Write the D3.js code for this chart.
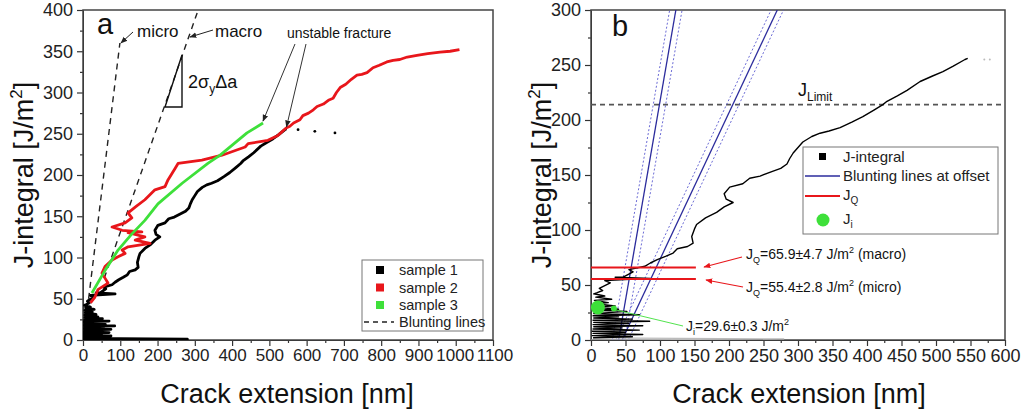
<!DOCTYPE html>
<html>
<head>
<meta charset="utf-8">
<script src="https://cdn.jsdelivr.net/npm/d3@7"></script>
<style>
  body { margin: 0; background: #fff; }
  svg { display: block; font-family: "Liberation Sans", Arial, sans-serif; }
</style>
</head>
<body>
<div id="chart"></div>
<script>
// --------------------------------------
// Data
// --------------------------------------

// panel a : crack extension [nm], J-integral [J/m2]
const sample1 = [
  [0,0],[280,1],[3,2],[60,3],[2,4],[75,5],[3,6],[50,7],[2,8],[70,9],[3,10],[45,11],[4,12],
  [75,13],[3,14],[55,15],[4,16],[85,17],[3,18],[60,19],[4,20],[40,21],[3,22],[70,23],[4,24],
  [52,26],[5,27],[40,28],[5,30],[35,31],[6,33],[25,34],[5,36],[30,37],[7,39],[20,40],[4,42],
  [9,43],[17,45],[12,47],[28,52],[20,54],[86,56],[35,57],[46,57],[61,62],[55,64],[78,67],
  [86,70],[96,73],[108,76],[119,79],[125,83],[140,85],[148,88],[146,94],[150,101],[153,105],
  [166,111],[182,116],[193,121],[206,125],[196,128],[193,133],[201,139],[220,142],[230,147],
  [245,149],[262,153],[275,156],[284,160],[288,165],[293,170],[300,175],[307,180],[320,185],
  [332,188],[345,190],[361,193],[378,198],[394,203],[410,209],[423,214],[429,217],[444,222],
  [458,227],[477,235],[495,240],[510,244],[525,249],[542,255],[546,256]
];
const sample1Tail = [[577,255],[622,253],[676,251]];

const sample2 = [
  [20,45],[32,52],[40,61],[67,69],[59,75],[51,81],[59,89],[78,97],[94,101],[113,105],[105,109],
  [121,113],[180,117],[140,121],[166,125],[121,130],[158,131],[105,133],[78,137],[113,142],
  [131,148],[121,154],[140,161],[166,170],[193,182],[220,186],[228,194],[247,208],[255,214],
  [319,218],[373,224],[435,234],[443,238],[496,242],[523,248],[545,257],[555,259],[565,263],
  [582,267],[590,272],[605,275],[618,279],[628,283],[645,286],[660,291],[671,293],[680,300],
  [690,306],[705,310],[720,316],[735,321],[748,322],[762,324],[778,330],[795,333],[815,337],
  [832,339],[850,340],[870,343],[896,345],[925,347],[958,349],[985,350],[1010,352]
];

const sample3 = [
  [24,57],[60,85],[94,109],[130,128],[166,145],[201,165],[266,190],[335,214],[368,224],
  [440,251],[483,263]
];

const bluntMicro = [[15,50],[99,360]];
const bluntMacro = [[57,75],[309,400]];

const legendA = [
  { label: "sample 1", color: "#000000" },
  { label: "sample 2", color: "#e8161b" },
  { label: "sample 3", color: "#3ee03a" }
];

// panel b
const offsetLines = [
  { mid: [[40,0],[123,300]], lo: [[31,0],[114,300]], hi: [[49,0],[132,300]] },
  { mid: [[45,0],[270,300]], lo: [[36,0],[261,300]], hi: [[54,0],[279,300]] }
];
const jQValues = [65.9, 55.4];
const jQEnd = 152;
const jLimit = 214;
const jI = [10, 29.6];
const sampleBTail = [[570,255],[578,255]];

const ticksA_x = d3.range(0, 1101, 100);
const ticksA_y = d3.range(0, 401, 50);
const ticksB_x = d3.range(0, 601, 50);
const ticksB_y = d3.range(0, 301, 50);

// --------------------------------------
//  Canvas
// --------------------------------------

const width = 1023, height = 414;
const red = "#e8161b", green = "#3ee03a", blue = "#2b2b9c";

const svg = d3.select("#chart")
  .append("svg")
    .attr("width", width)
    .attr("height", height)
    .attr("viewBox", [0, 0, width, height]);

// --------------------------------------
// Scales
// --------------------------------------

const xA = d3.scaleLinear([0, 1100], [83, 493]);
const yA = d3.scaleLinear([0, 400], [340, 10]);
const xB = d3.scaleLinear([0, 600], [591, 1005]);
const yB = d3.scaleLinear([0, 300], [340, 10]);

// --------------------------------------
//  Axes
// --------------------------------------

function drawAxes(x, y, xt, yt, fs) {
  const x0 = x.range()[0], y0 = y.range()[0];
  const xStep = xt[1] - xt[0], yStep = yt[1] - yt[0];
  const xMinor = xt.slice(0, -1).map(d => d + xStep / 2);
  const yMinor = yt.slice(0, -1).map(d => d + yStep / 2);

  svg.append("g")
    .attr("transform", `translate(0,${y0})`)
    .call(d3.axisBottom(x).tickValues(xMinor).tickSize(3).tickFormat(""))
    .call(g => g.select(".domain").remove());
  svg.append("g")
    .attr("transform", `translate(${x0},0)`)
    .call(d3.axisLeft(y).tickValues(yMinor).tickSize(3).tickFormat(""))
    .call(g => g.select(".domain").remove());

  svg.append("g")
    .attr("class", "xaxis")
    .attr("transform", `translate(0,${y0})`)
    .call(d3.axisBottom(x).tickValues(xt).tickFormat(d3.format("d"))
      .tickSize(6).tickSizeOuter(0).tickPadding(3))
    .attr("font-size", fs)
    .attr("font-family", null)
    .attr("color", "#222");
  svg.append("g")
    .attr("transform", `translate(${x0},0)`)
    .call(d3.axisLeft(y).tickValues(yt).tickSize(6).tickSizeOuter(0).tickPadding(4))
    .attr("font-size", 18)
    .attr("font-family", null)
    .attr("color", "#222");

  svg.selectAll(".tick line").attr("stroke", "#333").attr("stroke-width", 1.2);

  svg.append("rect")
    .attr("x", x0).attr("y", y.range()[1])
    .attr("width", x.range()[1] - x0)
    .attr("height", y0 - y.range()[1])
    .attr("fill", "none")
    .attr("stroke", "#444")
    .attr("stroke-width", 1.5);
}

function axisTitles(cx, ty, cy) {
  svg.append("text")
    .attr("x", cx).attr("y", 403)
    .attr("text-anchor", "middle")
    .attr("font-size", 27)
    .attr("fill", "#111")
    .text("Crack extension [nm]");

  const t = svg.append("text")
    .attr("transform", `translate(${ty},${cy}) rotate(-90)`)
    .attr("text-anchor", "middle")
    .attr("font-size", 27)
    .attr("fill", "#111");
  t.append("tspan").text("J-integral [J/m");
  t.append("tspan").attr("font-size", 17).attr("dy", -11).text("2");
  t.append("tspan").attr("dy", 11).text("]");
}

drawAxes(xA, yA, ticksA_x, ticksA_y, 17);
drawAxes(xB, yB, ticksB_x, ticksB_y, 18);
axisTitles(287, 33, 175);
axisTitles(799, 551, 175);

// the last two labels of panel a sit edge to edge, as in the original
svg.select(".xaxis").selectAll(".tick text")
  .attr("dx", d => d === 1000 ? -1 : d === 1100 ? 1.5 : 0);

// arrow heads
const defs = svg.append("defs");
[["arrBlack", "#222"], ["arrRed", red]].forEach(([id, c]) => {
  defs.append("marker")
    .attr("id", id)
    .attr("viewBox", "0 0 10 10")
    .attr("refX", 9).attr("refY", 5)
    .attr("markerWidth", 7).attr("markerHeight", 7)
    .attr("markerUnits", "userSpaceOnUse")
    .attr("orient", "auto")
    .append("path")
      .attr("d", "M0,1 L10,5 L0,9 Z")
      .attr("fill", c);
});

defs.append("clipPath").attr("id", "clipB")
  .append("rect").attr("x", 591).attr("y", 10).attr("width", 414).attr("height", 330);
defs.append("clipPath").attr("id", "clipA")
  .append("rect").attr("x", 83).attr("y", 10).attr("width", 410).attr("height", 330);

// --------------------------------------
// Panel a
// --------------------------------------

const lineA = d3.line().x(d => xA(d[0])).y(d => yA(d[1]));
const gA = svg.append("g").attr("clip-path", "url(#clipA)");

[bluntMicro, bluntMacro].forEach(l => {
  gA.append("path")
    .attr("d", lineA(l))
    .attr("fill", "none")
    .attr("stroke", "#222")
    .attr("stroke-width", 1.4)
    .attr("stroke-dasharray", "6,5");
});

[[sample1, "#000"], [sample2, red], [sample3, green]].forEach(([s, c]) => {
  gA.append("path")
    .attr("d", lineA(s))
    .attr("fill", "none")
    .attr("stroke", c)
    .attr("stroke-width", 2.8)
    .attr("stroke-linejoin", "round");
});

gA.selectAll(".tailA")
  .data(sample1Tail)
  .join("circle")
    .attr("cx", d => xA(d[0]))
    .attr("cy", d => yA(d[1]))
    .attr("r", 1.4)
    .attr("fill", "#000");

svg.append("text").attr("x", 97).attr("y", 34)
  .attr("font-size", 29).attr("fill", "#111").text("a");

svg.append("text").attr("x", 137).attr("y", 37)
  .attr("font-size", 17).attr("fill", "#111").text("micro");
svg.append("text").attr("x", 215).attr("y", 37)
  .attr("font-size", 17).attr("fill", "#111").text("macro");
svg.append("line")
  .attr("x1", 133).attr("y1", 32).attr("x2", xA(bluntMicro[1][0]) + 1).attr("y2", yA(bluntMicro[1][1]))
  .attr("stroke", "#222").attr("stroke-width", 1).attr("marker-end", "url(#arrBlack)");
svg.append("line")
  .attr("x1", 213).attr("y1", 30).attr("x2", 190).attr("y2", 37)
  .attr("stroke", "#222").attr("stroke-width", 1).attr("marker-end", "url(#arrBlack)");

// slope triangle
svg.append("path")
  .attr("d", "M182,55 L182,107 L165,107 Z")
  .attr("fill", "none").attr("stroke", "#111").attr("stroke-width", 1.4);
const tri = svg.append("text").attr("x", 188).attr("y", 88)
  .attr("font-size", 18).attr("fill", "#111");
tri.append("tspan").text("2σ");
tri.append("tspan").attr("font-size", 12).attr("dy", 5).text("y");
tri.append("tspan").attr("dy", -5).text("Δa");

svg.append("text").attr("x", 287).attr("y", 38)
  .attr("font-size", 14).attr("fill", "#111").text("unstable fracture");
svg.append("line")
  .attr("x1", 295).attr("y1", 44).attr("x2", xA(483)).attr("y2", yA(263) - 2)
  .attr("stroke", "#333").attr("stroke-width", 1).attr("marker-end", "url(#arrBlack)");
svg.append("line")
  .attr("x1", 306).attr("y1", 44).attr("x2", xA(546)).attr("y2", yA(256) - 2)
  .attr("stroke", "#333").attr("stroke-width", 1).attr("marker-end", "url(#arrBlack)");

// legend a
const legA = svg.append("g");
legA.append("rect")
  .attr("x", 362).attr("y", 260).attr("width", 121).attr("height", 71)
  .attr("fill", "#fff").attr("stroke", "#777").attr("stroke-width", 1);
legendA.forEach((d, i) => {
  const yy = 270 + i * 17.5;
  legA.append("rect").attr("x", 376).attr("y", yy - 4).attr("width", 8).attr("height", 8).attr("fill", d.color);
  legA.append("text").attr("x", 399).attr("y", yy + 5).attr("font-size", 14.5).attr("fill", "#222").text(d.label);
});
legA.append("line")
  .attr("x1", 364).attr("x2", 394).attr("y1", 322).attr("y2", 322)
  .attr("stroke", "#222").attr("stroke-width", 1.3).attr("stroke-dasharray", "5,4");
legA.append("text").attr("x", 399).attr("y", 327).attr("font-size", 14.5).attr("fill", "#222").text("Blunting lines");

// --------------------------------------
// Panel b
// --------------------------------------

const lineB = d3.line().x(d => xB(d[0])).y(d => yB(d[1]));
const gB = svg.append("g").attr("clip-path", "url(#clipB)");

gB.append("line")
  .attr("x1", xB(0)).attr("x2", xB(600))
  .attr("y1", yB(jLimit)).attr("y2", yB(jLimit))
  .attr("stroke", "#555").attr("stroke-width", 1.6).attr("stroke-dasharray", "5,4");

offsetLines.forEach(o => {
  [o.lo, o.hi].forEach(l => {
    gB.append("path").attr("d", lineB(l))
      .attr("fill", "none").attr("stroke", "#5a5ad0")
      .attr("stroke-width", 0.9).attr("stroke-dasharray", "2,2");
  });
  gB.append("path").attr("d", lineB(o.mid))
    .attr("fill", "none").attr("stroke", blue).attr("stroke-width", 1.3);
});

// first, long spike near zero shows up faint in this panel
gB.append("path")
  .attr("d", lineB(sample1.slice(0, 3)))
  .attr("fill", "none")
  .attr("stroke", "#bbb")
  .attr("stroke-width", 1.2);
gB.append("path")
  .attr("d", lineB(sample1.slice(2)))
  .attr("fill", "none")
  .attr("stroke", "#000")
  .attr("stroke-width", 1.4)
  .attr("stroke-linejoin", "round");

gB.selectAll(".tailB")
  .data(sampleBTail)
  .join("circle")
    .attr("cx", d => xB(d[0]))
    .attr("cy", d => yB(d[1]))
    .attr("r", 1)
    .attr("fill", "#bbb");

gB.selectAll(".jq")
  .data(jQValues)
  .join("line")
    .attr("x1", xB(0)).attr("x2", xB(jQEnd))
    .attr("y1", d => yB(d)).attr("y2", d => yB(d))
    .attr("stroke", red).attr("stroke-width", 2);

// J_i marker and its pointer
svg.append("line")
  .attr("x1", xB(jI[0]) + 16).attr("y1", yB(jI[1]) + 2)
  .attr("x2", 683).attr("y2", 326)
  .attr("stroke", green).attr("stroke-width", 0.9);
svg.append("circle")
  .attr("cx", xB(jI[0]) + 16).attr("cy", yB(jI[1]) + 1).attr("r", 3).attr("fill", green);
svg.append("circle")
  .attr("cx", xB(jI[0])).attr("cy", yB(jI[1])).attr("r", 7).attr("fill", green);

svg.append("text").attr("x", 612).attr("y", 36)
  .attr("font-size", 29).attr("fill", "#111").text("b");

const jl = svg.append("text").attr("x", 798).attr("y", 96).attr("font-size", 18).attr("fill", "#111");
jl.append("tspan").text("J");
jl.append("tspan").attr("font-size", 12).attr("dy", 5).text("Limit");

// J_Q annotations
const jqLabels = [
  { val: "=65.9±4.7 J/m", tail: " (macro)", y: 259, from: [742, 257], to: [704, 267] },
  { val: "=55.4±2.8 J/m", tail: " (micro)", y: 292, from: [743, 287], to: [706, 280] }
];
jqLabels.forEach(d => {
  const t = svg.append("text").attr("x", 746).attr("y", d.y).attr("font-size", 14).attr("fill", "#111");
  t.append("tspan").text("J");
  t.append("tspan").attr("font-size", 9).attr("dy", 4).text("Q");
  t.append("tspan").attr("dy", -4).text(d.val);
  t.append("tspan").attr("font-size", 9).attr("dy", -6).text("2");
  t.append("tspan").attr("dy", 6).text(d.tail);
  svg.append("line")
    .attr("x1", d.from[0]).attr("y1", d.from[1]).attr("x2", d.to[0]).attr("y2", d.to[1])
    .attr("stroke", red).attr("stroke-width", 1.2).attr("marker-end", "url(#arrRed)");
});

const ji = svg.append("text").attr("x", 686).attr("y", 331).attr("font-size", 14).attr("fill", "#111");
ji.append("tspan").text("J");
ji.append("tspan").attr("font-size", 9).attr("dy", 4).text("i");
ji.append("tspan").attr("dy", -4).text("=29.6±0.3 J/m");
ji.append("tspan").attr("font-size", 9).attr("dy", -6).text("2");

// legend b
const legB = svg.append("g");
legB.append("rect")
  .attr("x", 803).attr("y", 147).attr("width", 195).attr("height", 87)
  .attr("fill", "#fff").attr("stroke", "#777").attr("stroke-width", 1);
legB.append("rect").attr("x", 819).attr("y", 153).attr("width", 7).attr("height", 7).attr("fill", "#000");
legB.append("text").attr("x", 843).attr("y", 162).attr("font-size", 15).attr("fill", "#222").text("J-integral");
legB.append("line").attr("x1", 805).attr("x2", 840).attr("y1", 176).attr("y2", 176)
  .attr("stroke", blue).attr("stroke-width", 1.3);
legB.append("text").attr("x", 843).attr("y", 181).attr("font-size", 15).attr("fill", "#222").text("Blunting lines at offset");
legB.append("line").attr("x1", 805).attr("x2", 840).attr("y1", 196).attr("y2", 196)
  .attr("stroke", red).attr("stroke-width", 1.8);
const lq = legB.append("text").attr("x", 843).attr("y", 200).attr("font-size", 15).attr("fill", "#222");
lq.append("tspan").text("J");
lq.append("tspan").attr("font-size", 10).attr("dy", 4).text("Q");
legB.append("circle").attr("cx", 823).attr("cy", 220).attr("r", 6.5).attr("fill", green);
const li = legB.append("text").attr("x", 843).attr("y", 224).attr("font-size", 15).attr("fill", "#222");
li.append("tspan").text("J");
li.append("tspan").attr("font-size", 10).attr("dy", 4).text("i");
</script>
</body>
</html>
